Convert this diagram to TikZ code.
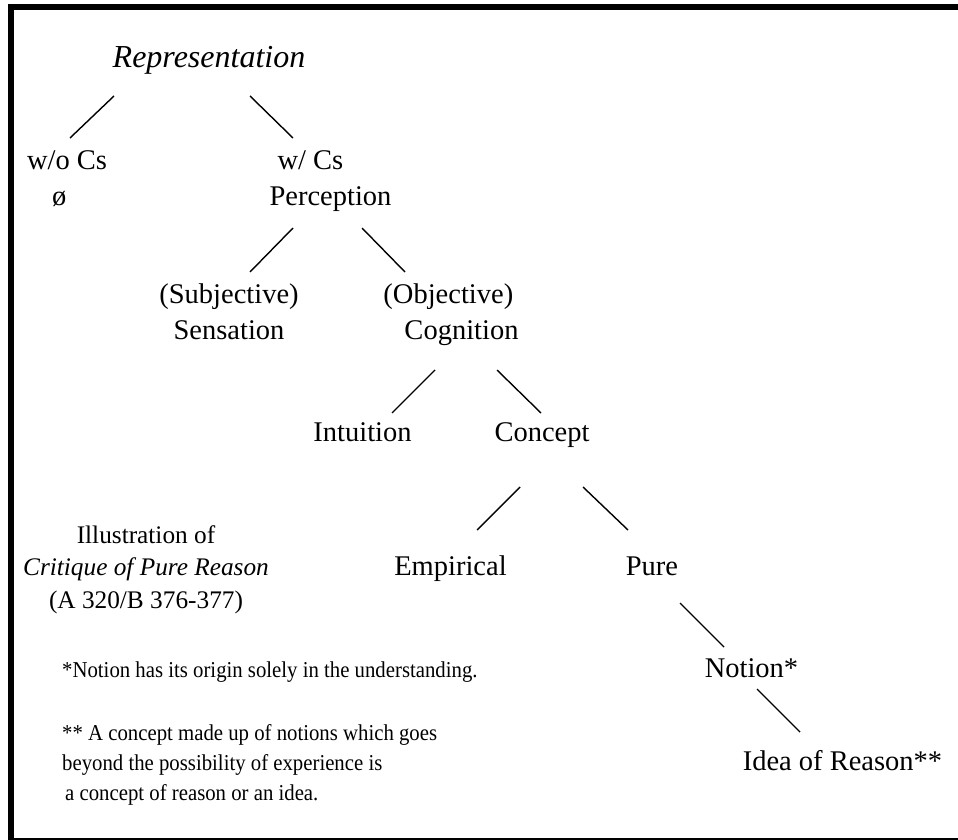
\documentclass[tikz,border=0pt]{standalone}
\usepackage{fontspec}
\setmainfont{Liberation Serif}
\newfontfamily\notefont{Liberation Serif}[FakeStretch=0.915]
\usetikzlibrary{calc}

\begin{document}
\begin{tikzpicture}[x=1pt, y=-1pt,
  term/.style={inner sep=0pt, anchor=base, font=\fontsize{28.5}{36}\selectfont},
  note/.style={inner sep=0pt, anchor=base west, align=left, font=\notefont\fontsize{22.7}{30}\selectfont},
  branch/.style={line width=1.4pt, color=black}]
  \useasboundingbox (0,0) rectangle (958,840);
  \clip (0,0) rectangle (958,840);
  \draw[line width=6pt] (11,7) rectangle (965,841);

  % tree (base of a two-line node = its last line)
  \node[term, font=\fontsize{32}{38}\selectfont\itshape] (rep) at (209,68) {Representation};
  \node[term, align=left] (woCs) at (67,205) {w/o Cs\\\hspace*{25pt}ø};
  \node[term, align=left] (wCs) at (330.5,205) {\hspace*{8pt}w/ Cs\\Perception};
  \node[term, align=center] (subj) at (229,339) {(Subjective)\\Sensation};
  \node[term, align=left] (obj) at (451,339) {(Objective)\\\hspace*{21pt}Cognition};
  \node[term] (intu) at (362.5,441) {Intuition};
  \node[term] (conc) at (542,441) {Concept};
  \node[term] (emp) at (450.5,575) {Empirical};
  \node[term] (pure) at (652,575) {Pure};
  \node[term] (notion) at (751.5,677) {Notion*};
  \node[term] (idea) at (842.5,770) {Idea of Reason**};

  \draw[branch] ([shift={(-95,28)}]rep.base) -- ([shift={(3,-67)}]woCs.base);
  \draw[branch] ([shift={(41,28)}]rep.base) -- ([shift={(-37.5,-67)}]wCs.base);
  \draw[branch] ([shift={(-37.5,23)}]wCs.base) -- ([shift={(21,-67)}]subj.base);
  \draw[branch] ([shift={(31.5,23)}]wCs.base) -- ([shift={(-46,-67)}]obj.base);
  \draw[branch] ([shift={(-16,31)}]obj.base) -- ([shift={(29.5,-28)}]intu.base);
  \draw[branch] ([shift={(46,31)}]obj.base) -- ([shift={(-1,-28)}]conc.base);
  \draw[branch] ([shift={(-22,46)}]conc.base) -- ([shift={(26.5,-45)}]emp.base);
  \draw[branch] ([shift={(41,46)}]conc.base) -- ([shift={(-24,-45)}]pure.base);
  \draw[branch] ([shift={(28,28)}]pure.base) -- ([shift={(-27.5,-30)}]notion.base);
  \draw[branch] ([shift={(5.5,12)}]notion.base) -- ([shift={(-42.5,-38)}]idea.base);

  % caption and notes
  \node[term, align=center, font=\fontsize{25.3}{32.5}\selectfont] (illus) at (146,608)
    {Illustration of\\\textit{Critique of Pure Reason}\\(A 320/B 376-377)};
  \node[note] (fnA) at (62,677) {*Notion has its origin solely in the understanding.};
  \node[note] (fnB) at (62,800) {** A concept made up of notions which goes\\beyond the possibility of experience is\\\hspace*{3pt}a concept of reason or an idea.};
\end{tikzpicture}
\end{document}
